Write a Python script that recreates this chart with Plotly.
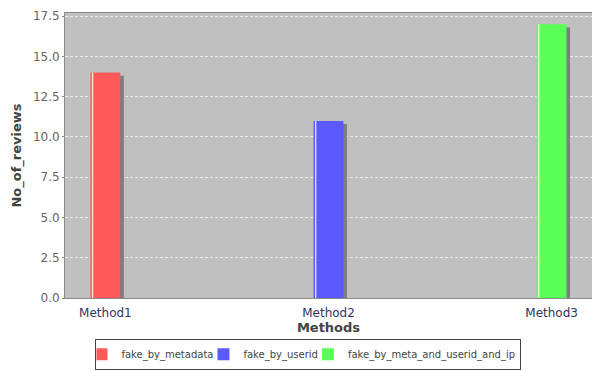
import plotly.graph_objects as go

# Review counts per detection method
categories = ["Method1", "Method2", "Method3"]
series_names = ["fake_by_metadata", "fake_by_userid", "fake_by_meta_and_userid_and_ip"]
series_values = [
    [14, 0, 0],
    [0, 11, 0],
    [0, 0, 17],
]
series_colors = ["#FF5A5A", "#5A5AFF", "#5AFF5A"]
y_ticks = [0.0, 2.5, 5.0, 7.5, 10.0, 12.5, 15.0, 17.5]

slot = 0.27        # offset of each series within a category
bar_w = 0.17
shadow_dx = 0.02
shadow_dy = 0.2

fig = go.Figure()

# drop shadows behind the bars
for s, vals in enumerate(series_values):
    xs = [c + (s - 1) * slot + shadow_dx for c in range(len(categories))]
    ys = [max(v - shadow_dy, 0) if v else 0 for v in vals]
    fig.add_trace(go.Bar(
        x=xs, y=ys, width=bar_w, marker=dict(color="#7d7d7d", line_width=0),
        showlegend=False, hoverinfo="skip",
    ))

# main bars
for s, (name, vals, col) in enumerate(zip(series_names, series_values, series_colors)):
    xs = [c + (s - 1) * slot for c in range(len(categories))]
    fig.add_trace(go.Bar(
        x=xs, y=vals, width=bar_w, name=name,
        marker=dict(color=col, line_width=0),
    ))

# light highlight strip along the left edge of each bar
for s, vals in enumerate(series_values):
    xs = [c + (s - 1) * slot - bar_w / 2 + 0.012 for c in range(len(categories))]
    fig.add_trace(go.Bar(
        x=xs, y=vals, width=0.008, marker=dict(color="rgba(255,255,255,0.8)", line_width=0),
        showlegend=False, hoverinfo="skip",
    ))

# the non-zero bar of each category sits in its own series slot
label_x = [c + (c - 1) * slot for c in range(len(categories))]

fig.update_layout(
    width=592, height=371,
    margin=dict(l=65, r=0, t=13, b=73, autoexpand=False),
    barmode="overlay",
    paper_bgcolor="white",
    plot_bgcolor="#C0C0C0",
    font=dict(family="DejaVu Sans", color="#555555"),
    legend=dict(
        orientation="h", x=0.462, xanchor="center", y=-0.252, yanchor="bottom",
        bordercolor="#444444", borderwidth=1, bgcolor="rgba(255,255,255,0)",
        font=dict(size=10, color="#444444", family="DejaVu Sans"),
        itemwidth=30, tracegroupgap=0,
        indentation=-15,
    ),
)

fig.update_xaxes(
    range=[-0.5, 2.5], automargin=False,
    tickvals=label_x,
    ticktext=categories,
    tickfont=dict(size=12, color="#333366"),
    showgrid=False, zeroline=False,
    showline=True, linecolor="#8a8a8a", linewidth=1, mirror=True,
    ticks="outside", ticklen=4, tickcolor="rgba(0,0,0,0)",
    title=dict(text="<b>Methods</b>", font=dict(size=13, color="#444444"), standoff=2),
)

fig.update_yaxes(
    range=[0, 17.7], automargin=False,
    tickvals=y_ticks,
    ticktext=[f"{v:.1f}" for v in y_ticks],
    tickfont=dict(size=12, color="#666666"),
    showgrid=True, gridcolor="rgba(255,255,255,0.7)", griddash="3px,2px", gridwidth=1,
    zeroline=False,
    showline=True, linecolor="#8a8a8a", linewidth=1,
    ticks="outside", ticklen=2, tickcolor="#8a8a8a",
    title=dict(text="<b>No_of_reviews</b>", font=dict(size=13, color="#444444"), standoff=8),
)

fig.write_html("out.html")
